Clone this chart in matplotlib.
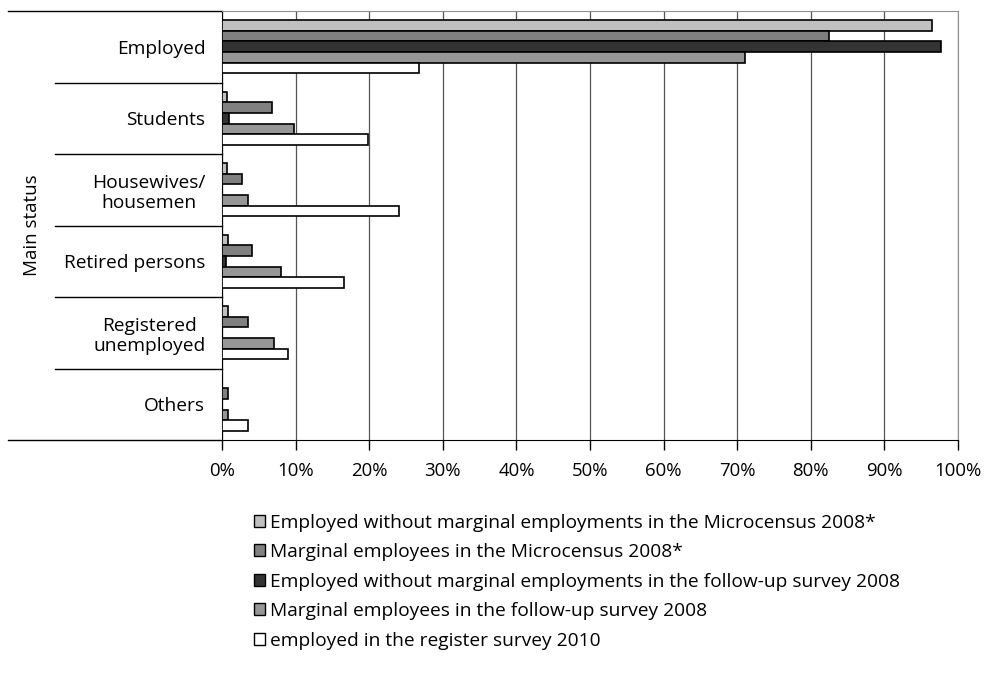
import numpy as np
import matplotlib.pyplot as plt
from matplotlib.patches import Patch

plt.rcParams['font.family'] = ['Open Sans', 'DejaVu Sans']

# categories, top to bottom
categories = ['Employed', 'Students', 'Housewives/\nhousemen', 'Retired persons',
              'Registered\nunemployed', 'Others']

series_names = [
    'Employed without marginal employments in the Microcensus 2008*',
    'Marginal employees in the Microcensus 2008*',
    'Employed without marginal employments in the follow-up survey 2008',
    'Marginal employees in the follow-up survey 2008',
    'employed in the register survey 2010',
]

# shares in percent
mc_employed = [96.5, 0.7, 0.7, 0.8, 0.8, 0.0]
mc_marginal = [82.5, 6.8, 2.7, 4.1, 3.6, 0.8]
fu_employed = [97.7, 1.0, 0.0, 0.6, 0.0, 0.0]
fu_marginal = [71.1, 9.8, 3.6, 8.0, 7.1, 0.8]
register = [26.8, 19.9, 24.1, 16.6, 8.9, 3.6]

series = [mc_employed, mc_marginal, fu_employed, fu_marginal, register]
colors = ['#c0c0c0', '#808080', '#333333', '#969696', '#ffffff']

fig = plt.figure(figsize=(9.84, 6.75), dpi=100)
ax = fig.add_axes([222/984, 1-440/675, 736/984, 429/675])

bar_h = 0.148
centers = np.arange(len(categories)) + 0.5
for i, (vals, col) in enumerate(zip(series, colors)):
    y = centers + (i - 2) * bar_h
    ax.barh(y, vals, height=bar_h, color=col, edgecolor='black', linewidth=1.2, zorder=3)

ax.set_xlim(0, 100)
ax.set_ylim(len(categories), 0)
ax.set_xticks(np.arange(0, 101, 10))
ax.set_xticklabels([f'{v}%' for v in range(0, 101, 10)], fontsize=13.4)
ax.tick_params(axis='x', length=7, width=1, color='black', pad=9)
ax.xaxis.grid(True, color='#555555', linewidth=0.9, zorder=0)

ax.set_yticks(centers)
ax.set_yticklabels(categories, fontsize=13.8, multialignment='center',
                   linespacing=1.15)
ax.tick_params(axis='y', length=0, pad=12)
ax.set_ylabel('Main status', fontsize=13.5, labelpad=0)
ax.yaxis.set_label_coords(-0.246, 0.5)

for s in ['top', 'right']:
    ax.spines[s].set_color('#909090')
ax.spines['left'].set_color('black')
ax.spines['bottom'].set_color('black')

# category separator lines out to the left
trans = ax.get_yaxis_transform()
for b in range(1, len(categories)):
    ax.plot([-0.227, 0], [b, b], color='black', linewidth=1, transform=trans, clip_on=False)
for b in [0, len(categories)]:
    ax.plot([-0.291, 0], [b, b], color='black', linewidth=1, transform=trans, clip_on=False)

handles = [Patch(facecolor=c, edgecolor='black', linewidth=1) for c in colors]
fig.legend(handles, series_names, loc='upper left', bbox_to_anchor=(246/984, 1-506/675),
           frameon=False, fontsize=13.8, handlelength=0.57, handleheight=0.57,
           handletextpad=0.28, labelspacing=0.6, borderaxespad=0)

fig.savefig('out.png', dpi=100)
